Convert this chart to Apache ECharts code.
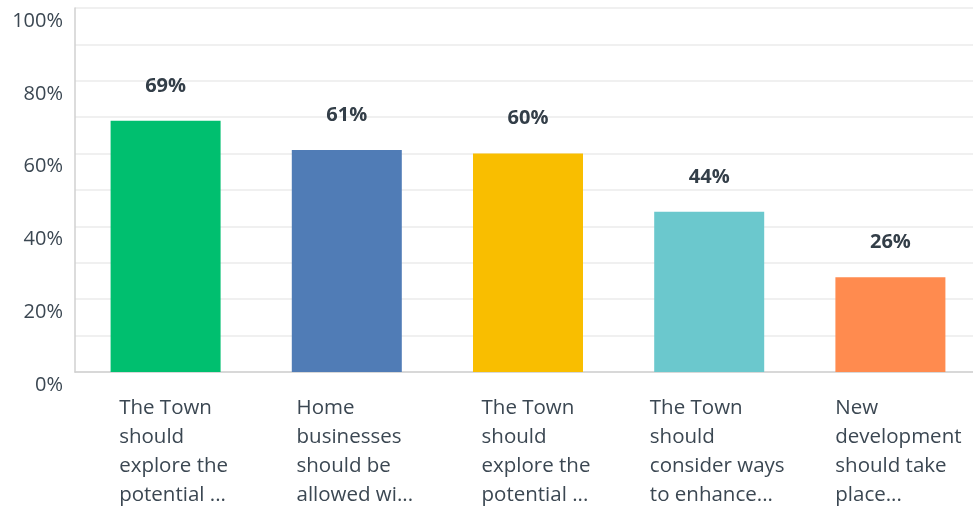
<!DOCTYPE html>
<html>
<head>
<meta charset="utf-8">
<script src="https://cdn.jsdelivr.net/npm/echarts@6/dist/echarts.min.js"></script>
<style>
html,body{margin:0;padding:0;background:#fff;}
#main{width:973px;height:510px;}
</style>
</head>
<body>
<div id="main"></div>
<script>
const categories = [
  "The Town\nshould\nexplore the\npotential ...",
  "Home\nbusinesses\nshould be\nallowed wi...",
  "The Town\nshould\nexplore the\npotential ...",
  "The Town\nshould\nconsider ways\nto enhance...",
  "New\ndevelopment\nshould take\nplace..."
];
const values = [69, 61, 60, 44, 26];
const colors = ["#00bf6f", "#507cb6", "#f9be00", "#6bc8cd", "#ff8b4f"];
const yTickLabels = ["0%", "20%", "40%", "60%", "80%", "100%"];

const chart = echarts.init(document.getElementById('main'));
chart.setOption({
  animation: false,
  grid: { left: 75, width: 906, top: 8, bottom: 138, containLabel: false, outerBoundsMode: 'none' },
  xAxis: {
    type: 'category',
    data: categories,
    axisTick: { show: false },
    axisLine: { lineStyle: { color: '#d0d0d0', width: 1.5 } },
    axisLabel: {
      interval: 0,
      margin: 22,
      padding: [0, 0, 0, 16],
      formatter: function (v) {
        return v.split('\n').map(function (l) { return '{a|' + l + '}'; }).join('\n');
      },
      rich: {
        a: {
          align: 'left',
          fontFamily: 'Open Sans',
          fontSize: 20.5,
          lineHeight: 29,
          color: '#3b4752'
        }
      }
    }
  },
  yAxis: {
    type: 'value',
    min: 0,
    max: 100,
    interval: 10,
    axisLine: { show: true, lineStyle: { color: '#d0d0d0', width: 1.5 } },
    axisTick: { show: false },
    splitLine: { lineStyle: { color: '#ebebeb', width: 1.5 } },
    axisLabel: {
      margin: 12,
      verticalAlign: 'top',
      lineHeight: 26,
      fontFamily: 'Open Sans',
      fontSize: 20,
      color: '#3b4752',
      formatter: function (v) {
        return v % 20 === 0 ? yTickLabels[v / 20] : '';
      }
    }
  },
  series: [{
    type: 'bar',
    barWidth: 110,
    data: values.map(function (v, i) { return { value: v, itemStyle: { color: colors[i] } }; }),
    label: {
      show: true,
      position: 'top',
      distance: 25,
      fontFamily: 'Open Sans',
      fontWeight: 'bold',
      fontSize: 20,
      color: '#333e48',
      formatter: '{c}%'
    }
  }]
});
</script>
</body>
</html>
